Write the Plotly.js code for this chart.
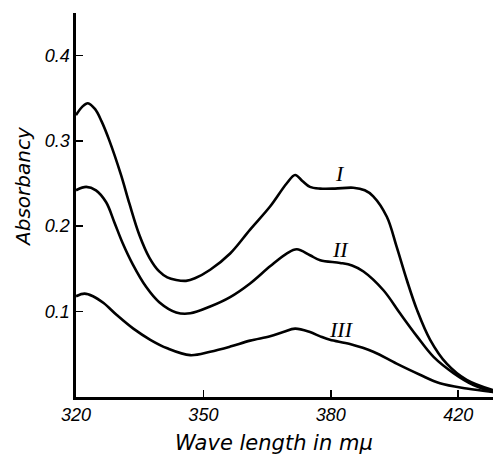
<!DOCTYPE html>
<html>
<head>
<meta charset="utf-8">
<script src="https://cdn.plot.ly/plotly-3.0.1.min.js"></script>
<style>html,body{margin:0;padding:0;background:#fff;}#chart{width:494px;height:457px;}</style>
</head>
<body>
<div id="chart"></div>
<script>
// Wavelength positions as drawn on the (equally spaced) axis
var curveI_x = [320, 321.5, 322.8, 324.5, 326, 327.8, 330.6, 332.6, 334.9, 337.3, 339.6, 341.5, 343.6, 345.9, 348, 351.6, 356.3, 361, 365.7, 369.6, 371.6, 373.3, 375.1, 377.5, 381, 385.3, 388, 390, 393.2, 395.5, 397.9, 400.3, 403.4, 407.3, 412, 418.2];
var curveI_y = [0.330, 0.340, 0.344, 0.337, 0.323, 0.301, 0.260, 0.226, 0.190, 0.163, 0.147, 0.140, 0.137, 0.136, 0.139, 0.149, 0.168, 0.196, 0.223, 0.250, 0.260, 0.253, 0.246, 0.244, 0.244, 0.245, 0.242, 0.235, 0.211, 0.176, 0.137, 0.102, 0.067, 0.039, 0.020, 0.008];

var curveII_x = [320, 322.4, 324.7, 327.1, 329, 331, 333.4, 336.5, 339.6, 343.6, 346.9, 351.6, 356.3, 361, 365.7, 369.6, 372, 375.1, 377.5, 382.2, 385, 387.7, 392.4, 396.3, 400.3, 404.2, 408.9, 413.6, 418.2];
var curveII_y = [0.242, 0.246, 0.242, 0.228, 0.205, 0.180, 0.155, 0.129, 0.111, 0.099, 0.098, 0.106, 0.117, 0.133, 0.153, 0.168, 0.173, 0.166, 0.160, 0.157, 0.154, 0.147, 0.125, 0.098, 0.071, 0.047, 0.028, 0.014, 0.006];

var curveIII_x = [320, 322, 324, 326.5, 329.6, 333.5, 337.5, 341.5, 346.9, 351.6, 356.3, 361, 365.7, 368.8, 371.6, 375.1, 377.5, 379.8, 384.5, 390, 395.5, 401, 405.7, 412, 418.2];
var curveIII_y = [0.118, 0.121, 0.118, 0.110, 0.096, 0.080, 0.067, 0.057, 0.049, 0.053, 0.059, 0.066, 0.071, 0.076, 0.080, 0.076, 0.071, 0.067, 0.062, 0.053, 0.039, 0.026, 0.016, 0.010, 0.006];

var xTickVals = [320, 350, 380, 410];
var xTickText = ['320', '350', '380', '420'];
var yTickVals = [0.1, 0.2, 0.3, 0.4];
var yTickText = ['0.1', '0.2', '0.3', '0.4'];

var curveNames = ['I', 'II', 'III'];
var labelX = [382.2, 382.2, 382.6];
var labelY = [0.262, 0.173, 0.079];

var lineStyle = {color: '#000', width: 2.6, shape: 'spline', smoothing: 1};
var traces = [
  {x: curveI_x, y: curveI_y, name: curveNames[0]},
  {x: curveII_x, y: curveII_y, name: curveNames[1]},
  {x: curveIII_x, y: curveIII_y, name: curveNames[2]}
].map(function (t) {
  t.type = 'scatter'; t.mode = 'lines'; t.line = lineStyle; t.hoverinfo = 'skip';
  return t;
});

var tickFont = {family: 'Liberation Sans, Arial, sans-serif', size: 18, color: '#000', style: 'italic'};
var annotations = curveNames.map(function (n, i) {
  return {x: labelX[i], y: labelY[i], xref: 'x', yref: 'y', text: n, showarrow: false,
    font: {family: 'Liberation Serif, serif', size: 22, color: '#000', style: 'italic'}};
});
annotations.push({xref: 'paper', yref: 'paper', x: (274 - 76) / 417, y: (397 - 443) / 384,
  text: 'Wave length in mμ', showarrow: false, xanchor: 'center', yanchor: 'middle',
  font: {family: 'DejaVu Sans, sans-serif', size: 21, color: '#000', style: 'italic'}});
annotations.push({xref: 'paper', yref: 'paper', x: (23 - 76) / 417, y: (397 - 187) / 384,
  text: 'Absorbancy', showarrow: false, textangle: -90, xanchor: 'center', yanchor: 'middle',
  font: {family: 'DejaVu Sans, sans-serif', size: 20, color: '#000', style: 'italic'}});

var layout = {
  width: 494, height: 457,
  margin: {l: 76, r: 1, t: 13, b: 60},
  paper_bgcolor: '#fff', plot_bgcolor: '#fff',
  showlegend: false,
  xaxis: {
    range: [320, 418.2], showgrid: false, zeroline: false,
    showline: true, linecolor: '#000', linewidth: 2.6,
    ticks: 'inside', ticklen: 7, tickwidth: 1.5, tickcolor: '#000',
    tickmode: 'array', tickvals: xTickVals, ticktext: xTickText,
    tickfont: tickFont, fixedrange: true
  },
  yaxis: {
    range: [0, 0.4496], showgrid: false, zeroline: false,
    showline: true, linecolor: '#000', linewidth: 2.6,
    ticks: 'inside', ticklen: 7, tickwidth: 1.5, tickcolor: '#000',
    tickmode: 'array', tickvals: yTickVals, ticktext: yTickText,
    tickfont: tickFont, fixedrange: true
  },
  annotations: annotations
};

Plotly.newPlot('chart', traces, layout, {displayModeBar: false, staticPlot: true});
</script>
</body>
</html>
